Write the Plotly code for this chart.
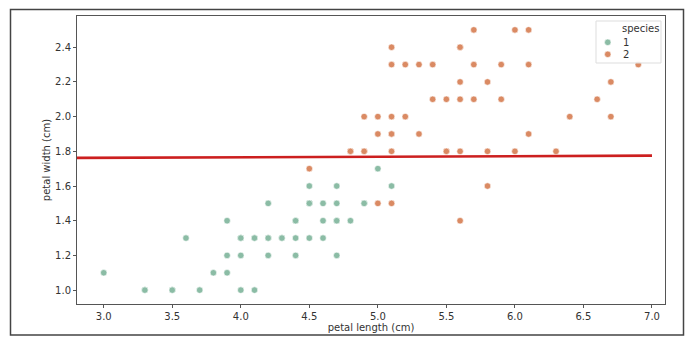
import plotly.graph_objects as go

# species 1 (versicolor)
len_1 = [4.7,4.5,4.9,4.0,4.6,4.5,4.7,3.3,4.6,3.9,3.5,4.2,4.0,4.7,3.6,4.4,4.5,4.1,4.5,3.9,
         4.8,4.0,4.9,4.7,4.3,4.4,4.8,5.0,4.5,3.5,3.8,3.7,3.9,5.1,4.5,4.5,4.7,4.4,4.1,4.0,
         4.4,4.6,4.0,3.3,4.2,4.2,4.2,4.3,3.0,4.1]
wid_1 = [1.4,1.5,1.5,1.3,1.5,1.3,1.6,1.0,1.3,1.4,1.0,1.5,1.0,1.4,1.3,1.4,1.5,1.0,1.5,1.1,
         1.8,1.3,1.5,1.2,1.3,1.4,1.4,1.7,1.5,1.0,1.1,1.0,1.2,1.6,1.5,1.6,1.5,1.3,1.3,1.3,
         1.2,1.4,1.2,1.0,1.3,1.2,1.3,1.3,1.1,1.3]
# species 2 (virginica)
len_2 = [6.0,5.1,5.9,5.6,5.8,6.6,4.5,6.3,5.8,6.1,5.1,5.3,5.5,5.0,5.1,5.3,5.5,6.7,6.9,5.0,
         5.7,4.9,6.7,4.9,5.7,6.0,4.8,4.9,5.6,5.8,6.1,6.4,5.6,5.1,5.6,6.1,5.6,5.5,4.8,5.4,
         5.6,5.1,5.1,5.9,5.7,5.2,5.0,5.2,5.4,5.1]
wid_2 = [2.5,1.9,2.1,1.8,2.2,2.1,1.7,1.8,1.8,2.5,2.0,1.9,2.1,2.0,2.4,2.3,1.8,2.2,2.3,1.5,
         2.3,2.0,2.0,1.8,2.1,1.8,1.8,1.8,2.1,1.6,1.9,2.0,2.2,1.5,1.4,2.3,2.4,1.8,1.8,2.1,
         2.4,2.3,1.9,2.3,2.5,2.3,1.9,2.0,2.3,1.8]
# fitted line
line_x = [2.805, 7.0]
line_y = [1.762, 1.775]

species_names = ["1", "2"]
colors = ["#8bbca5", "#da8a63"]

L, R, T, B = 77, 665, 16, 304
W, H = R - L, B - T
def px(x): return (x - L) / W
def py(y): return (B - y) / H

fig = go.Figure()
for xs, ys, name, c in [(len_1, wid_1, species_names[0], colors[0]),
                        (len_2, wid_2, species_names[1], colors[1])]:
    fig.add_trace(go.Scatter(x=xs, y=ys, mode="markers", name=name, showlegend=False,
                             marker=dict(color=c, size=6.5, line=dict(color="white", width=0.6))))
fig.add_trace(go.Scatter(x=line_x, y=line_y, mode="lines", showlegend=False,
                         line=dict(color="#cc1f1f", width=2.6)))

axis_common = dict(showgrid=False, zeroline=False, showline=True, linecolor="#555", linewidth=1,
                   mirror=True, ticks="outside", ticklen=3, tickcolor="#555",
                   tickfont=dict(family="DejaVu Sans", size=10, color="#333"))
fig.update_xaxes(range=[2.805, 7.095], tickvals=[3.0,3.5,4.0,4.5,5.0,5.5,6.0,6.5,7.0],
                 ticktext=["3.0","3.5","4.0","4.5","5.0","5.5","6.0","6.5","7.0"],
                 title=dict(text="petal length (cm)", standoff=0,
                            font=dict(family="DejaVu Sans", size=10, color="#333")),
                 **axis_common)
fig.update_yaxes(range=[0.92, 2.58], tickvals=[1.0,1.2,1.4,1.6,1.8,2.0,2.2,2.4],
                 ticktext=["1.0","1.2","1.4","1.6","1.8","2.0","2.2","2.4"],
                 title=dict(text="petal width (cm)", standoff=2,
                            font=dict(family="DejaVu Sans", size=10, color="#333")),
                 **axis_common)

# outer frame
fig.add_shape(type="rect", xref="paper", yref="paper",
              x0=px(10.5), x1=px(683.5), y0=py(335), y1=py(9.5),
              line=dict(color="#444", width=1.5), fillcolor="rgba(0,0,0,0)", layer="below")

# manual legend
fig.add_shape(type="rect", xref="paper", yref="paper",
              x0=px(596), x1=px(661), y0=py(63), y1=py(21),
              line=dict(color="#ddd", width=1), fillcolor="rgba(255,255,255,0.85)", layer="above")
fig.add_annotation(xref="paper", yref="paper", x=px(640), y=py(28.5), text="species",
                   showarrow=False, xanchor="center", yanchor="middle",
                   font=dict(family="DejaVu Sans", size=10, color="#333"))
for i, (name, c) in enumerate(zip(species_names, colors)):
    yy = 42.3 + 12 * i
    fig.add_shape(type="circle", xref="paper", yref="paper",
                  x0=px(604.5), x1=px(611), y0=py(yy + 3.25), y1=py(yy - 3.25),
                  fillcolor=c, line=dict(color="white", width=0.6), layer="above")
    fig.add_annotation(xref="paper", yref="paper", x=px(621), y=py(yy), text=name,
                       showarrow=False, xanchor="left", yanchor="middle",
                       font=dict(family="DejaVu Sans", size=10, color="#333"))

fig.update_layout(
    width=694, height=352, margin=dict(l=L, r=694 - R, t=T, b=352 - B),
    plot_bgcolor="white", paper_bgcolor="white", showlegend=False,
    font=dict(family="DejaVu Sans", size=10, color="#333"),
)
fig.write_html("out.html")
